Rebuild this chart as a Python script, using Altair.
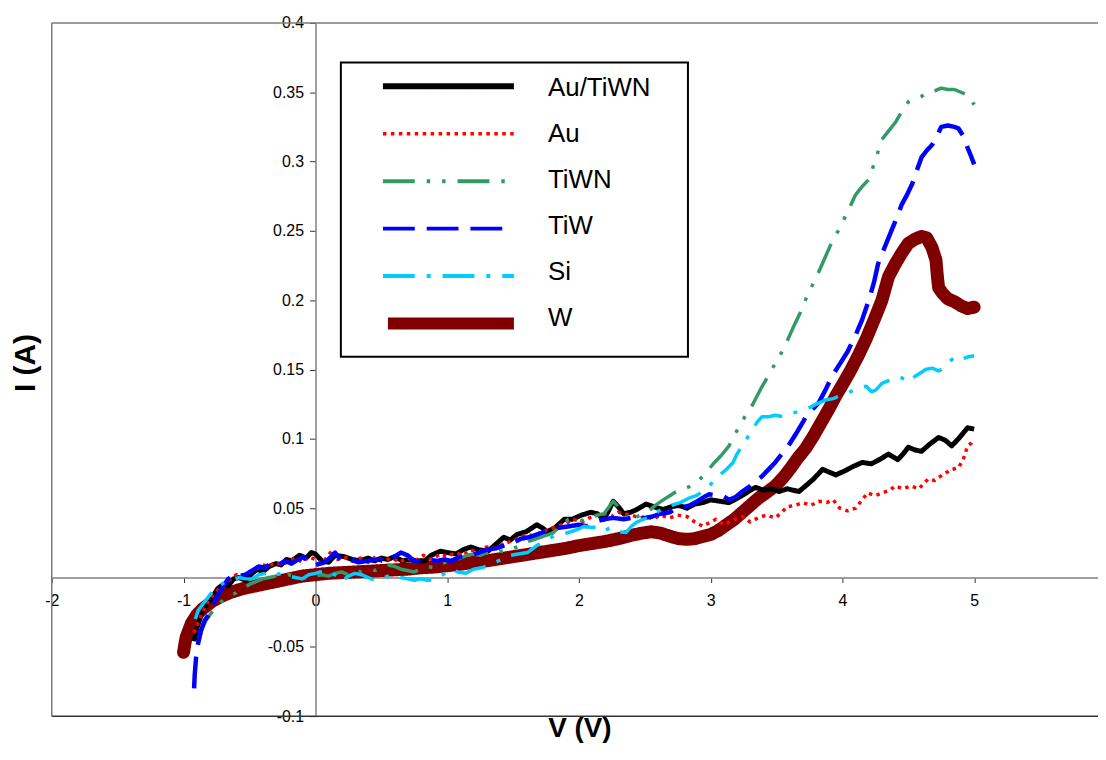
import altair as alt
import pandas as pd

# ---------------- data ----------------
SERIES = ["Au/TiWN", "Au", "TiWN", "TiW", "Si", "W"]
COLORS = ["#000000", "#ff0000", "#339966", "#0000ff", "#00ccff", "#800000"]
X_TICKS = [-2, -1, 0, 1, 2, 3, 4, 5]
Y_TICKS = [-0.1, -0.05, 0, 0.05, 0.1, 0.15, 0.2, 0.25, 0.3, 0.35, 0.4]
X_TITLE = "V (V)"
Y_TITLE = "I (A)"

AU_TIWN = [(-0.92,-0.046),(-0.9,-0.037),(-0.86,-0.025),(-0.82,-0.019),(-0.78,-0.014),(-0.74,-0.008),
 (-0.7,-0.005),(-0.66,-0.006),(-0.62,-0.001),(-0.58,0.000),(-0.53,-0.002),(-0.48,0.003),(-0.44,0.006),
 (-0.4,0.004),(-0.35,0.008),(-0.3,0.010),(-0.26,0.009),(-0.22,0.013),(-0.18,0.012),(-0.12,0.016),
 (-0.07,0.014),(-0.03,0.018),(0.0,0.017),(0.05,0.012),(0.1,0.011),(0.15,0.016),(0.22,0.015),(0.28,0.013),
 (0.34,0.012),(0.4,0.014),(0.45,0.012),(0.5,0.014),(0.55,0.013),(0.6,0.015),(0.66,0.012),(0.72,0.013),
 (0.78,0.012),(0.83,0.012),(0.88,0.016),(0.95,0.019),(1.0,0.018),(1.07,0.017),(1.12,0.020),(1.18,0.022),
 (1.24,0.020),(1.31,0.019),(1.37,0.024),(1.43,0.029),(1.48,0.027),(1.53,0.031),(1.6,0.033),(1.68,0.038),
 (1.72,0.036),(1.76,0.033),(1.82,0.036),(1.89,0.042),(1.95,0.042),(2.02,0.045),(2.09,0.047),(2.14,0.046),
 (2.19,0.042),(2.23,0.049),(2.26,0.055),(2.3,0.051),(2.34,0.046),(2.39,0.047),(2.44,0.049),(2.51,0.053),
 (2.57,0.051),(2.64,0.049),(2.7,0.051),(2.76,0.052),(2.82,0.050),(2.88,0.053),(2.94,0.054),(3.0,0.056),
 (3.07,0.055),(3.14,0.054),(3.2,0.057),(3.27,0.061),(3.34,0.065),(3.4,0.063),(3.46,0.064),(3.52,0.062),
 (3.58,0.064),(3.67,0.062),(3.72,0.066),(3.78,0.071),(3.85,0.078),(3.9,0.076),(3.95,0.074),(4.02,0.077),
 (4.08,0.080),(4.15,0.083),(4.22,0.082),(4.28,0.085),(4.35,0.089),(4.42,0.085),(4.46,0.089),(4.5,0.094),
 (4.55,0.092),(4.6,0.091),(4.66,0.096),(4.73,0.101),(4.78,0.099),(4.83,0.095),(4.88,0.100),(4.95,0.108),
 (5.0,0.107)]

AU = [(-0.92,-0.040),(-0.88,-0.030),(-0.84,-0.022),(-0.8,-0.015),(-0.76,-0.011),(-0.72,-0.007),(-0.68,-0.003),
 (-0.64,-0.001),(-0.6,0.002),(-0.55,0.001),(-0.5,0.004),(-0.45,0.006),(-0.4,0.009),(-0.35,0.008),(-0.3,0.011),
 (-0.25,0.009),(-0.2,0.012),(-0.15,0.014),(-0.1,0.011),(-0.05,0.015),(0.0,0.013),(0.05,0.010),(0.1,0.016),
 (0.13,0.020),(0.17,0.013),(0.22,0.015),(0.28,0.012),(0.34,0.014),(0.4,0.011),(0.46,0.015),(0.52,0.012),
 (0.58,0.014),(0.64,0.011),(0.7,0.014),(0.76,0.012),(0.82,0.016),(0.88,0.013),(0.95,0.017),(1.0,0.015),
 (1.06,0.018),(1.12,0.016),(1.18,0.020),(1.24,0.018),(1.3,0.022),(1.36,0.021),(1.42,0.024),(1.48,0.026),
 (1.54,0.028),(1.6,0.031),(1.66,0.030),(1.72,0.033),(1.78,0.035),(1.84,0.037),(1.9,0.039),(1.96,0.042),
 (2.02,0.040),(2.08,0.043),(2.14,0.045),(2.19,0.046),(2.25,0.044),(2.3,0.047),(2.34,0.046),(2.4,0.045),
 (2.46,0.043),(2.52,0.044),(2.56,0.042),(2.62,0.045),(2.69,0.043),(2.75,0.045),(2.82,0.044),(2.88,0.040),
 (2.94,0.037),(3.0,0.040),(3.04,0.042),(3.1,0.038),(3.16,0.041),(3.24,0.044),(3.3,0.040),(3.36,0.043),
 (3.42,0.045),(3.49,0.043),(3.54,0.047),(3.58,0.051),(3.64,0.052),(3.7,0.054),(3.76,0.052),(3.82,0.055),
 (3.88,0.054),(3.93,0.056),(3.98,0.050),(4.04,0.048),(4.1,0.050),(4.15,0.056),(4.19,0.061),(4.25,0.059),
 (4.3,0.061),(4.36,0.063),(4.4,0.066),(4.46,0.064),(4.52,0.066),(4.58,0.064),(4.65,0.071),(4.7,0.070),
 (4.76,0.074),(4.83,0.078),(4.88,0.079),(4.92,0.086),(4.95,0.095),(4.98,0.097),(5.0,0.0995)]

TIWN = [(-0.88,-0.045),(-0.86,-0.037),(-0.83,-0.031),(-0.8,-0.027),(-0.76,-0.022),(-0.72,-0.018),(-0.68,-0.015),
 (-0.64,-0.013),(-0.6,-0.011),(-0.55,-0.008),(-0.5,-0.005),(-0.45,-0.003),(-0.4,-0.001),(-0.35,0.000),
 (-0.3,0.001),(-0.25,0.000),(-0.2,0.002),(-0.15,0.001),(-0.1,0.000),(-0.05,-0.001),(0.0,0.001),(0.05,0.002),
 (0.1,0.001),(0.15,0.003),(0.2,0.004),(0.25,0.002),(0.3,0.005),(0.35,0.004),(0.4,0.006),(0.45,0.005),
 (0.5,0.007),(0.55,0.009),(0.6,0.008),(0.65,0.006),(0.7,0.005),(0.75,0.004),(0.8,0.006),(0.85,0.008),
 (0.9,0.007),(0.95,0.010),(1.0,0.011),(1.05,0.012),(1.1,0.014),(1.15,0.016),(1.2,0.017),(1.25,0.016),
 (1.3,0.018),(1.35,0.017),(1.4,0.019),(1.45,0.019),(1.5,0.021),(1.56,0.023),(1.62,0.026),(1.68,0.028),
 (1.74,0.030),(1.8,0.032),(1.86,0.037),(1.92,0.042),(1.96,0.043),(2.02,0.041),(2.08,0.043),(2.14,0.045),
 (2.19,0.046),(2.23,0.051),(2.26,0.055),(2.29,0.052),(2.33,0.044),(2.37,0.041),(2.42,0.043),(2.47,0.045),
 (2.53,0.048),(2.58,0.052),(2.64,0.056),(2.69,0.059),(2.74,0.062),(2.8,0.064),(2.85,0.066),(2.9,0.069),
 (2.96,0.075),(3.02,0.082),(3.08,0.088),(3.14,0.095),(3.2,0.106),(3.26,0.116),(3.32,0.125),(3.38,0.136),
 (3.44,0.146),(3.5,0.156),(3.56,0.166),(3.62,0.179),(3.68,0.191),(3.74,0.205),(3.8,0.216),(3.86,0.229),
 (3.92,0.242),(3.98,0.252),(4.04,0.264),(4.1,0.276),(4.15,0.282),(4.2,0.287),(4.25,0.301),(4.3,0.316),
 (4.35,0.322),(4.4,0.328),(4.45,0.336),(4.5,0.343),(4.55,0.345),(4.6,0.347),(4.65,0.350),(4.7,0.351),
 (4.75,0.353),(4.8,0.352),(4.85,0.352),(4.9,0.350),(4.95,0.348),(4.98,0.344),(5.0,0.341)]

TIW = [(-0.92,-0.080),(-0.915,-0.070),(-0.905,-0.058),(-0.89,-0.048),(-0.87,-0.039),(-0.84,-0.031),
 (-0.81,-0.027),(-0.78,-0.020),(-0.74,-0.013),(-0.7,-0.006),(-0.66,-0.001),(-0.62,0.002),(-0.58,0.001),
 (-0.53,0.002),(-0.48,0.005),(-0.43,0.008),(-0.38,0.007),(-0.33,0.011),(-0.28,0.009),(-0.23,0.012),
 (-0.18,0.010),(-0.13,0.013),(-0.09,0.015),(-0.06,0.011),(0.0,0.009),(0.07,0.011),(0.11,0.014),(0.15,0.018),
 (0.2,0.012),(0.26,0.013),(0.33,0.011),(0.4,0.012),(0.48,0.013),(0.54,0.011),(0.6,0.015),(0.65,0.018),
 (0.7,0.016),(0.75,0.012),(0.8,0.011),(0.86,0.013),(0.92,0.012),(0.98,0.013),(1.03,0.012),(1.1,0.015),
 (1.18,0.016),(1.24,0.018),(1.3,0.020),(1.37,0.021),(1.43,0.023),(1.5,0.025),(1.56,0.028),(1.62,0.029),
 (1.68,0.031),(1.74,0.033),(1.8,0.035),(1.86,0.036),(1.93,0.037),(2.0,0.038),(2.06,0.037),(2.12,0.040),
 (2.19,0.042),(2.26,0.043),(2.34,0.042),(2.4,0.043),(2.44,0.042),(2.5,0.043),(2.56,0.044),(2.62,0.046),
 (2.69,0.047),(2.74,0.050),(2.8,0.051),(2.84,0.052),(2.9,0.055),(2.95,0.058),(2.99,0.060),(3.05,0.059),
 (3.09,0.059),(3.14,0.056),(3.19,0.058),(3.24,0.062),(3.3,0.066),(3.35,0.070),(3.39,0.073),(3.44,0.078),
 (3.49,0.083),(3.54,0.089),(3.59,0.095),(3.65,0.104),(3.7,0.112),(3.74,0.119),(3.78,0.122),(3.82,0.126),
 (3.87,0.135),(3.92,0.145),(3.96,0.151),(4.0,0.157),(4.04,0.163),(4.07,0.169),(4.11,0.177),(4.15,0.186),
 (4.2,0.200),(4.24,0.213),(4.27,0.226),(4.32,0.238),(4.38,0.252),(4.42,0.261),(4.45,0.269),(4.49,0.276),
 (4.53,0.284),(4.57,0.295),(4.6,0.303),(4.64,0.308),(4.68,0.312),(4.72,0.319),(4.75,0.325),(4.8,0.326),
 (4.85,0.325),(4.88,0.324),(4.92,0.318),(4.95,0.310),(4.98,0.303),(5.0,0.298)]

SI = [(-0.91,-0.030),(-0.89,-0.024),(-0.86,-0.020),(-0.82,-0.015),(-0.78,-0.010),(-0.74,-0.007),(-0.7,-0.004),
 (-0.66,-0.003),(-0.62,-0.002),(-0.58,0.000),(-0.53,-0.001),(-0.48,-0.001),(-0.43,0.002),(-0.38,0.003),
 (-0.35,0.004),(-0.3,0.002),(-0.25,0.003),(-0.2,0.001),(-0.15,0.000),(-0.1,-0.001),(-0.05,0.002),(0.0,0.003),
 (0.07,0.005),(0.12,0.004),(0.16,0.001),(0.2,-0.003),(0.25,0.001),(0.3,0.003),(0.35,0.002),(0.4,0.000),
 (0.45,-0.002),(0.5,-0.001),(0.55,0.001),(0.6,0.002),(0.65,0.000),(0.7,-0.001),(0.75,-0.002),(0.8,-0.001),
 (0.85,-0.002),(0.9,-0.002),(0.95,0.001),(1.0,0.004),(1.03,0.006),(1.08,0.004),(1.14,0.003),(1.2,0.006),
 (1.26,0.007),(1.31,0.0085),(1.36,0.011),(1.42,0.013),(1.48,0.016),(1.54,0.017),(1.61,0.018),(1.68,0.023),
 (1.74,0.026),(1.81,0.030),(1.87,0.031),(1.94,0.033),(2.0,0.035),(2.04,0.037),(2.1,0.036),(2.16,0.037),
 (2.2,0.034),(2.24,0.036),(2.3,0.033),(2.36,0.0325),(2.4,0.037),(2.44,0.040),(2.49,0.042),(2.54,0.044),
 (2.59,0.047),(2.64,0.050),(2.7,0.052),(2.77,0.054),(2.83,0.057),(2.89,0.059),(2.94,0.062),(2.99,0.066),
 (3.02,0.0695),(3.07,0.074),(3.12,0.078),(3.17,0.083),(3.2,0.089),(3.24,0.095),(3.28,0.101),(3.32,0.107),
 (3.36,0.113),(3.39,0.116),(3.44,0.116),(3.49,0.117),(3.55,0.116),(3.62,0.1185),(3.68,0.120),(3.74,0.122),
 (3.8,0.125),(3.87,0.128),(3.93,0.129),(4.0,0.132),(4.06,0.134),(4.12,0.1365),(4.18,0.138),(4.22,0.134),
 (4.25,0.135),(4.3,0.140),(4.35,0.142),(4.4,0.144),(4.43,0.145),(4.47,0.143),(4.5,0.141),(4.55,0.145),
 (4.6,0.148),(4.63,0.150),(4.68,0.151),(4.73,0.149),(4.77,0.151),(4.8,0.1545),(4.84,0.158),(4.88,0.160),
 (4.92,0.158),(4.95,0.159),(5.0,0.160)]

W = [(-1.0,-0.054),(-0.99,-0.048),(-0.98,-0.043),(-0.96,-0.038),(-0.94,-0.033),(-0.92,-0.030),(-0.9,-0.027),
 (-0.86,-0.023),(-0.82,-0.020),(-0.78,-0.017),(-0.74,-0.015),(-0.7,-0.013),(-0.65,-0.011),(-0.6,-0.0095),
 (-0.55,-0.008),(-0.5,-0.007),(-0.45,-0.006),(-0.4,-0.005),(-0.35,-0.004),(-0.3,-0.003),(-0.25,-0.002),
 (-0.2,-0.001),(-0.15,0.000),(-0.1,0.001),(-0.05,0.0015),(0.0,0.002),(0.1,0.003),(0.2,0.0035),(0.3,0.004),
 (0.4,0.0045),(0.5,0.005),(0.6,0.0055),(0.7,0.006),(0.8,0.007),(0.9,0.0075),(1.0,0.0085),(1.1,0.0095),
 (1.2,0.011),(1.3,0.012),(1.4,0.0135),(1.5,0.015),(1.6,0.0165),(1.7,0.018),(1.8,0.0195),(1.9,0.021),
 (2.0,0.023),(2.1,0.0245),(2.2,0.026),(2.3,0.028),(2.4,0.0305),(2.48,0.032),(2.55,0.033),(2.62,0.032),
 (2.7,0.0295),(2.76,0.028),(2.82,0.0275),(2.88,0.028),(2.94,0.0295),(3.0,0.031),(3.06,0.034),(3.12,0.038),
 (3.18,0.042),(3.24,0.047),(3.3,0.052),(3.36,0.057),(3.42,0.061),(3.49,0.066),(3.55,0.072),(3.6,0.078),
 (3.66,0.086),(3.72,0.093),(3.78,0.102),(3.84,0.112),(3.9,0.122),(3.95,0.131),(4.0,0.139),(4.06,0.149),
 (4.12,0.160),(4.18,0.172),(4.25,0.188),(4.3,0.200),(4.35,0.217),(4.4,0.226),(4.45,0.234),(4.5,0.241),
 (4.55,0.244),(4.6,0.246),(4.64,0.245),(4.68,0.238),(4.71,0.229),(4.72,0.218),(4.73,0.209),(4.76,0.205),
 (4.8,0.201),(4.85,0.199),(4.9,0.196),(4.95,0.194),(5.0,0.195)]

SERIES_POINTS = {"Au/TiWN": AU_TIWN, "Au": AU, "TiWN": TIWN, "TiW": TIW, "Si": SI, "W": W}

# ---------------- styles ----------------
DASH = {"Au/TiWN": [1, 0], "Au": [3.5, 4.5], "TiWN": [32, 12, 3.5, 12, 3.5, 12],
        "TiW": [32, 12], "Si": [32, 12, 4, 12], "W": [1, 0]}
LINE_W = {"Au/TiWN": 5, "Au": 3.5, "TiWN": 3.5, "TiW": 4.5, "Si": 3.5, "W": 13}
LEG_W = {"Au/TiWN": 6, "Au": 3.5, "TiWN": 4, "TiW": 4, "Si": 4, "W": 12}
COLOR = dict(zip(SERIES, COLORS))
FONT = "Liberation Sans"

PLOT_W, PLOT_H = 1052, 697
PX_PER_V = 132.5
X_DOMAIN = [-2, -2 + PLOT_W / PX_PER_V]
Y_DOMAIN = [-0.1, 0.4]

rows = []
for s in SERIES:
    for i, (v, c) in enumerate(SERIES_POINTS[s]):
        rows.append({"series": s, "V": v, "I": c, "idx": i})
df = pd.DataFrame(rows)

label_expr = "datum.value < 0 ? '-' + format(-datum.value, '~g') : format(datum.value, '~g')"

x_enc = alt.X("V:Q", scale=alt.Scale(domain=X_DOMAIN, nice=False, zero=False),
              axis=alt.Axis(values=X_TICKS, offset=-139.4, title=None, grid=False,
                            tickSize=5, tickColor="#333333", tickWidth=1,
                            domainColor="#808080", domainWidth=1.5,
                            labelFont=FONT, labelFontSize=16, labelColor="#000000",
                            labelPadding=10, labelFlush=False, labelOverlap=False,
                            labelExpr=label_expr))
y_enc = alt.Y("I:Q", scale=alt.Scale(domain=Y_DOMAIN, nice=False, zero=False),
              axis=alt.Axis(values=Y_TICKS, offset=-265.2, title=None, grid=False,
                            tickSize=6, tickColor="#333333", tickWidth=1,
                            domainColor="#808080", domainWidth=1.5,
                            labelFont=FONT, labelFontSize=16, labelColor="#000000",
                            labelPadding=6, labelOverlap=False,
                            labelExpr=label_expr))

one = alt.Data(values=[{}])

layers = []
# frame of the plot area
layers.append(alt.Chart(one).mark_rule(color="#7a7a7a", strokeWidth=1.5).encode(x=alt.datum(X_DOMAIN[0])))
layers.append(alt.Chart(one).mark_rule(color="#7a7a7a", strokeWidth=1.5).encode(y=alt.datum(Y_DOMAIN[1])))
layers.append(alt.Chart(one).mark_rule(color="#333333", strokeWidth=1.5).encode(y=alt.datum(Y_DOMAIN[0])))

draw_order = ["W", "Au/TiWN", "Au", "TiWN", "TiW", "Si"]
for s in draw_order:
    cap = "round" if s == "W" else "butt"
    layers.append(
        alt.Chart(df[df["series"] == s]).mark_line(
            color=COLOR[s], strokeWidth=LINE_W[s], strokeDash=DASH[s],
            strokeCap=cap, strokeJoin="round", clip=True
        ).encode(x=x_enc, y=y_enc, order=alt.Order("idx:Q"))
    )

# legend box (plot-area pixel coordinates)
LEG_LEFT, LEG_RIGHT, LEG_TOP, LEG_BOTTOM = 290.7, 639.7, 39.7, 335.7
layers.append(alt.Chart(one).mark_rect(fill="white", stroke="black", strokeWidth=2).encode(
    x=alt.value(LEG_LEFT), x2=alt.value(LEG_RIGHT), y=alt.value(LEG_TOP), y2=alt.value(LEG_BOTTOM)))
for i, s in enumerate(SERIES):
    line_y = 63.7 + 47.7 * i
    text_y = 65.3 + 46.3 * i
    x_start = 338 if s == "W" else 333
    layers.append(alt.Chart(one).mark_rule(
        color=COLOR[s], strokeWidth=LEG_W[s], strokeDash=DASH[s], strokeCap="butt"
    ).encode(x=alt.value(x_start), x2=alt.value(464.7), y=alt.value(line_y)))
    layers.append(alt.Chart(one).mark_text(
        text=s, font=FONT, fontSize=26, color="#000000", align="left", baseline="middle"
    ).encode(x=alt.value(499), y=alt.value(text_y)))

# axis titles
layers.append(alt.Chart(one).mark_text(
    text=X_TITLE, font=FONT, fontSize=28, fontWeight="bold", color="#000000",
    align="center", baseline="alphabetic"
).encode(x=alt.value(531), y=alt.value(718)))
layers.append(alt.Chart(one).mark_text(
    text=Y_TITLE, font=FONT, fontSize=30, fontWeight="bold", color="#000000",
    align="center", baseline="alphabetic", angle=270
).encode(x=alt.value(-17), y=alt.value(342)))

chart = alt.layer(*layers).properties(
    width=PLOT_W, height=PLOT_H,
    autosize=alt.AutoSizeParams(type="none"),
    padding={"left": 44, "top": 13, "right": 0, "bottom": 28},
    background="white",
).configure_view(stroke=None)

chart.save("out.html", embed_options={"renderer": "svg", "actions": False})
